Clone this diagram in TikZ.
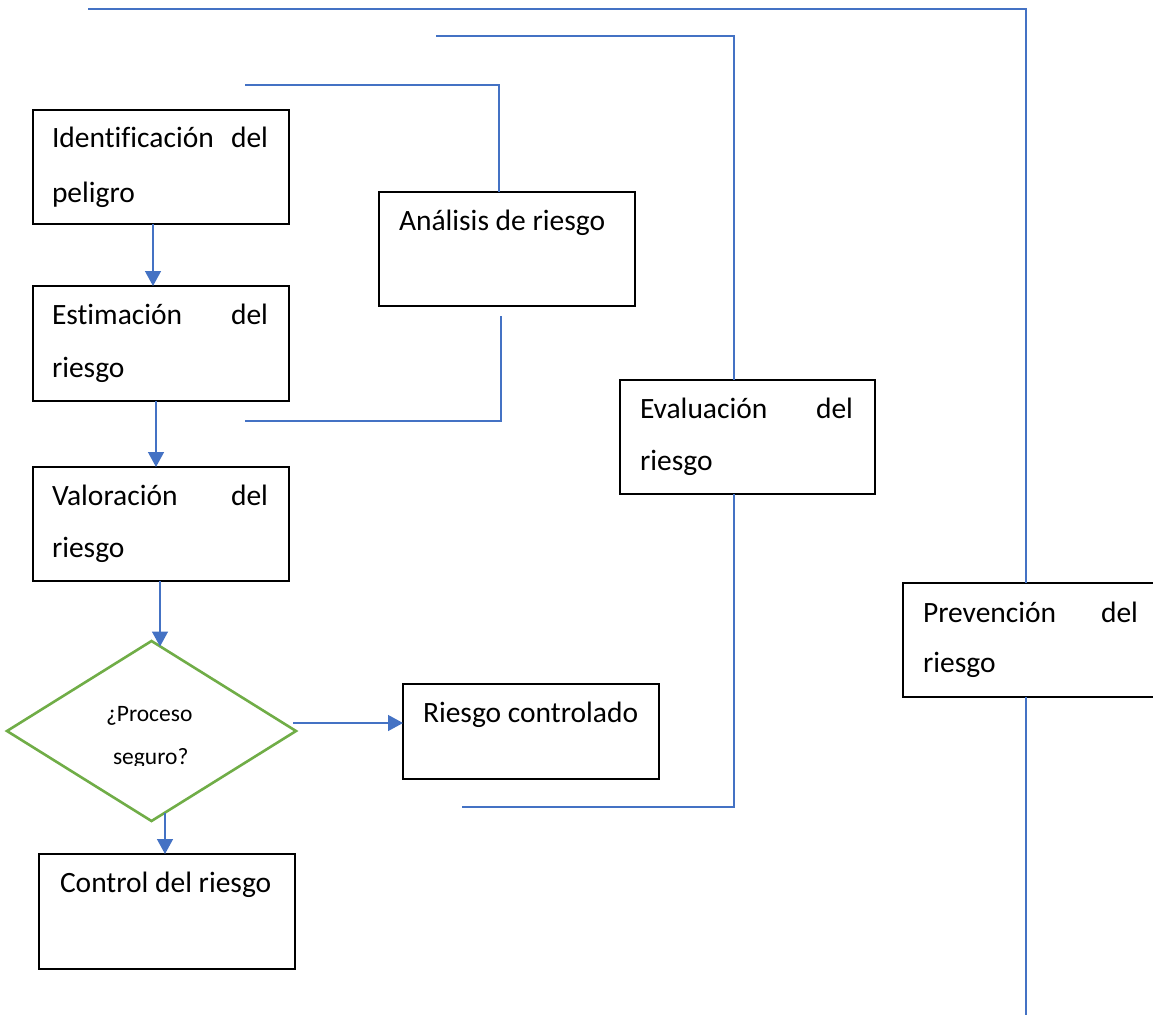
\documentclass[tikz,border=0pt]{standalone}
\usepackage{fontspec}
\setmainfont[Ligatures=NoCommon]{Carlito}
\usetikzlibrary{arrows.meta,calc,shapes.geometric}
\definecolor{linkblue}{HTML}{4472C4}
\definecolor{decgreen}{HTML}{70AD47}
\begin{document}
\begin{tikzpicture}[x=1pt,y=-1pt,
  stepbox/.style={draw=black,line width=1.3pt,rectangle,inner sep=0pt,outer sep=0pt,anchor=north west},
  txt/.style={inner sep=0pt,outer sep=0pt,font=\fontsize{29.5}{35}\selectfont},
  smalltxt/.style={inner sep=0pt,outer sep=0pt,font=\fontsize{23.5}{28}\selectfont},
  arr/.style={draw=linkblue,line width=1.4pt,-{Triangle[width=16pt,length=15pt]}},
  link/.style={draw=linkblue,line width=1.4pt}]
\useasboundingbox (0,0) rectangle (1153,1015);

% process boxes
\node[stepbox,minimum width=256pt,minimum height=114pt] (b1) at (33,110) {};
\node[stepbox,minimum width=256pt,minimum height=115pt] (b2) at (33,286) {};
\node[stepbox,minimum width=256pt,minimum height=114pt] (b3) at (33,467) {};
\node[stepbox,minimum width=256pt,minimum height=114pt] (an) at (379,192) {};
\node[stepbox,minimum width=255pt,minimum height=114pt] (ev) at (620,380) {};
\node[stepbox,minimum width=257pt,minimum height=114pt] (pv) at (903,583) {};
\node[stepbox,minimum width=256pt,minimum height=95pt] (rc) at (403,684) {};
\node[stepbox,minimum width=256pt,minimum height=115pt] (cr) at (39,854) {};

% decision
\node[diamond,draw=decgreen,line width=2.6pt,inner sep=0pt,outer sep=0pt,
  aspect=1.6,minimum width=289pt,minimum height=180pt] (d) at (151.5,731) {};

% box texts (justified lines)
\node[txt,anchor=base west] (t1a) at ($(b1.north west)+(19,37)$) {Identificación};
\node[txt,anchor=base east] (t1b) at ($(b1.north west)+(235,37)$) {del};
\node[txt,anchor=base west] (t1c) at ($(b1.north west)+(19,92)$) {peligro};

\node[txt,anchor=base west] (t2a) at ($(b2.north west)+(19,38)$) {Estimación};
\node[txt,anchor=base east] (t2b) at ($(b2.north west)+(235,38)$) {del};
\node[txt,anchor=base west] (t2c) at ($(b2.north west)+(19,91)$) {riesgo};

\node[txt,anchor=base west] (t3a) at ($(b3.north west)+(19,38)$) {Valoración};
\node[txt,anchor=base east] (t3b) at ($(b3.north west)+(235,38)$) {del};
\node[txt,anchor=base west] (t3c) at ($(b3.north west)+(19,90)$) {riesgo};

\node[txt,anchor=base west] (tan) at ($(an.north west)+(20,38)$) {Análisis de riesgo};

\node[txt,anchor=base west] (tev1) at ($(ev.north west)+(20,38)$) {Evaluación};
\node[txt,anchor=base east] (tev2) at ($(ev.north west)+(233,38)$) {del};
\node[txt,anchor=base west] (tev3) at ($(ev.north west)+(20,90)$) {riesgo};

\node[txt,anchor=base west] (tpv1) at ($(pv.north west)+(20,39)$) {Prevención};
\node[txt,anchor=base east] (tpv2) at ($(pv.north west)+(235,39)$) {del};
\node[txt,anchor=base west] (tpv3) at ($(pv.north west)+(20,89)$) {riesgo};

\node[txt,anchor=base west] (trc) at ($(rc.north west)+(20,38)$) {Riesgo controlado};
\node[txt,anchor=base west] (tcr) at ($(cr.north west)+(21,38)$) {Control del riesgo};

% decision text, second line cut by its text frame
\node[smalltxt,anchor=base west] (td1) at (106,721) {¿Proceso};
\begin{scope}
  \clip (0,0) rectangle (1153,765);
  \node[smalltxt,anchor=base west] (td2) at (113,764) {seguro?};
\end{scope}

% flow arrows
\draw[arr] ([xshift=-8pt]b1.south) -- ([xshift=-8pt]b2.north);
\draw[arr] ([xshift=-5pt]b2.south) -- ([xshift=-5pt]b3.north);
\draw[arr] ([xshift=-1pt]b3.south) -- ([xshift=8.5pt,yshift=-5.5pt]d.north);
\draw[arr] ([yshift=8pt]d.east) ++(-3,0) -- ([yshift=8pt]d.east -| rc.west);
\draw[arr] ([xshift=13.5pt,yshift=8.4pt]d.south) -- ([xshift=-2pt]cr.north);

% grouping brackets
\coordinate (an1) at (245,85);
\coordinate (an2) at (245,421);
\draw[link] (an1) -| ([xshift=-8pt]an.north);
\draw[link] ([xshift=-6pt,yshift=-10pt]an.south) |- (an2);

\coordinate (ev1) at (436,36);
\coordinate (ev2) at (462,807);
\draw[link] (ev1) -| ([xshift=-13.5pt]ev.north);
\draw[link] ([xshift=-13.5pt]ev.south) |- (ev2);

\coordinate (pv1) at (88,9);
\coordinate (pv2) at (1026,1015);
\draw[link] (pv1) -| ([xshift=-5.5pt]pv.north);
\draw[link] ([xshift=-5.5pt]pv.south) -- (pv2);
\end{tikzpicture}
\end{document}
